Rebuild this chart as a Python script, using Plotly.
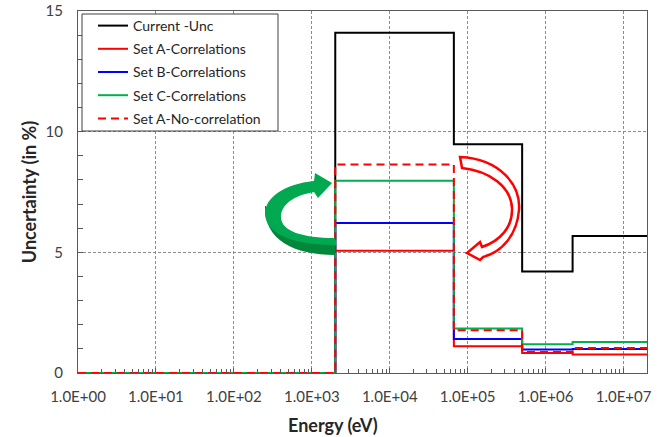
import plotly.graph_objects as go

# Energy group boundaries (eV) and per-group relative uncertainties (%)
energy_bounds = [1.0, 2.0e3, 6.65e4, 5.0e5, 2.22e6, 2.0e7]
current_unc = [0.0, 14.1, 9.48, 4.21, 5.68]
set_a_corr = [0.0, 5.07, 1.11, 0.83, 0.77]
set_b_corr = [0.0, 6.22, 1.41, 0.97, 0.99]
set_c_corr = [0.0, 7.97, 1.84, 1.19, 1.28]
set_a_nocorr = [0.0, 8.64, 1.77, 0.87, 1.04]

series_names = ["Current -Unc", "Set A-Correlations", "Set B-Correlations",
                "Set C-Correlations", "Set A-No-correlation"]
series_values = [current_unc, set_a_corr, set_b_corr, set_c_corr, set_a_nocorr]
series_colors = ["#000000", "#FF0000", "#0000FF", "#00B050", "#FF0000"]
series_dash = ["solid", "solid", "solid", "solid", "dash"]

x_tick_vals = [1e0, 1e1, 1e2, 1e3, 1e4, 1e5, 1e6, 1e7]
x_tick_text = ["1.0E+00", "1.0E+01", "1.0E+02", "1.0E+03",
               "1.0E+04", "1.0E+05", "1.0E+06", "1.0E+07"]
x_minor_vals = [m * 10 ** k for k in range(8) for m in range(2, 10)]

FONT = "Lato, 'Open Sans', sans-serif"
W, H = 661, 437
ML, MR, MT, MB = 78, 14, 11, 64
L, R, T, B = ML, W - MR, MT, H - MB


def pp(x, y):
    """Pixel position on the page -> paper coordinates."""
    return (x - L) / (R - L), (B - y) / (B - T)


def path(cmds):
    out = []
    for c in cmds:
        op, pts = c[0], c[1:]
        coords = " ".join("%.4f,%.4f" % pp(*p) for p in pts)
        out.append(op + " " + coords if pts else op)
    return " ".join(out)


fig = go.Figure()

for i, (name, vals, col, dash) in enumerate(zip(series_names, series_values,
                                                 series_colors, series_dash)):
    fig.add_trace(go.Scatter(
        x=energy_bounds, y=vals + [vals[-1]],
        mode="lines", line_shape="hv", name=name, legendgroup="g%d" % i,
        line=dict(color=col, width=2, dash="8px,5px" if dash == "dash" else "solid"),
    ))

shapes = []
# legend frame
x0, y0 = pp(82, 14)
x1, y1 = pp(278, 131)
shapes.append(dict(type="rect", xref="paper", yref="paper", x0=x0, y0=y0, x1=x1, y1=y1,
                   fillcolor="white", line=dict(color="#404040", width=1), layer="above"))

# green curved arrow (dark underside first, then face)
shapes.append(dict(type="path", xref="paper", yref="paper", layer="above",
                   path=path([("M", (265, 206)), ("C", (264, 240), (294, 255), (335, 255)),
                              ("L", (335, 244)), ("C", (298, 244), (271, 234), (266, 206)), ("Z",)]),
                   fillcolor="#00873C", line=dict(width=0)))
shapes.append(dict(type="path", xref="paper", yref="paper", layer="above",
                   path=path([("M", (335, 238)),
                              ("C", (302, 238), (282, 231), (281, 218)),
                              ("C", (280, 204), (296, 195), (314, 192)),
                              ("L", (318, 198)), ("L", (332, 183)), ("L", (315, 173)),
                              ("L", (314, 181)),
                              ("C", (285, 184), (265, 197), (265, 214)),
                              ("C", (266, 235), (296, 245), (335, 245)), ("Z",)]),
                   fillcolor="#00A94F", line=dict(width=0)))

# red outlined curved arrow
shapes.append(dict(type="path", xref="paper", yref="paper", layer="above",
                   path=path([("M", (460, 157)),
                              ("C", (500, 159), (521, 185), (519, 210)),
                              ("C", (517, 235), (502, 252), (483, 257)),
                              ("L", (480, 260)), ("L", (467, 253)), ("L", (480, 242)),
                              ("L", (482, 247)),
                              ("C", (500, 241), (513, 227), (512, 208)),
                              ("C", (511, 187), (490, 171), (462, 168)), ("Z",)]),
                   fillcolor="white", line=dict(color="#FF0000", width=2.5)))

fig.update_layout(
    width=W, height=H,
    margin=dict(l=ML, r=MR, t=MT, b=MB, pad=0, autoexpand=False),
    paper_bgcolor="white", plot_bgcolor="white",
    font=dict(family=FONT, color="#404040"),
    shapes=shapes,
    showlegend=True,
    legend=dict(x=pp(93, 0)[0], y=pp(0, 10)[1], xanchor="left", yanchor="top",
                bgcolor="rgba(0,0,0,0)", borderwidth=0, tracegroupgap=2,
                font=dict(size=14, color="#262626", family=FONT)),
    annotations=[dict(text="<b>Energy (eV)</b>", xref="paper", yref="paper",
                      x=pp(333, 0)[0], y=pp(0, 425)[1], xanchor="center", yanchor="middle",
                      showarrow=False, font=dict(size=18, color="#262626", family=FONT))],
    xaxis=dict(
        type="log", range=[0, 7.301], automargin=False,
        tickmode="array", tickvals=x_tick_vals, ticktext=x_tick_text,
        ticks="inside", ticklen=5, tickcolor="#595959",
        minor=dict(tickmode="array", tickvals=x_minor_vals, ticks="inside",
                   ticklen=4, tickcolor="#595959", showgrid=False),
        showgrid=True, gridcolor="#8c8c8c", griddash="3px,2px", gridwidth=1,
        showline=True, linecolor="#595959", linewidth=1, mirror=True,
        tickfont=dict(size=15, color="#404040"),
        ticklabelstandoff=10,
        zeroline=False,
    ),
    yaxis=dict(
        range=[0, 15], tickmode="linear", tick0=0, dtick=5, automargin=False,
        ticks="inside", ticklen=5, tickcolor="#595959",
        minor=dict(dtick=1, ticks="inside", ticklen=5, tickcolor="#595959", showgrid=False),
        showgrid=True, gridcolor="#8c8c8c", griddash="3px,2px", gridwidth=1,
        showline=True, linecolor="#595959", linewidth=1, mirror=True,
        tickfont=dict(size=15, color="#404040"),
        ticklabelstandoff=11,
        title=dict(text="<b>Uncertainty (in %)</b>", font=dict(size=18, color="#262626"), standoff=4),
        zeroline=False,
    ),
)

fig.write_html("out.html")
